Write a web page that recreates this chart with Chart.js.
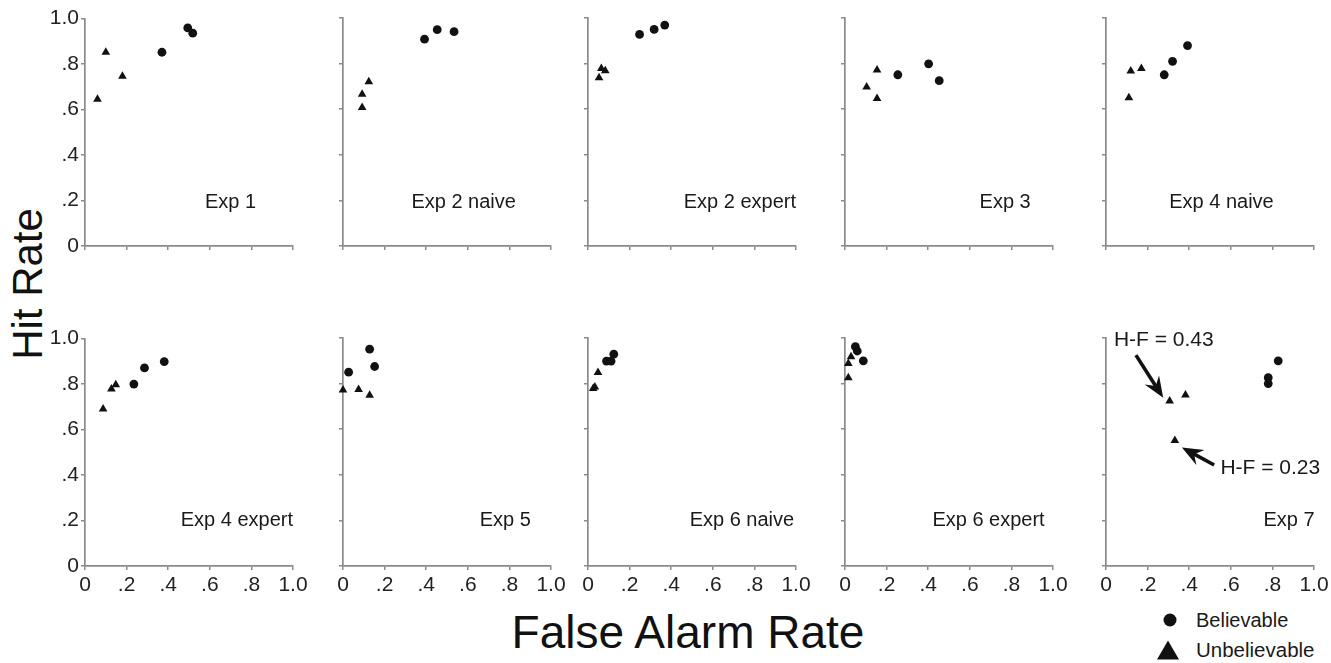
<!DOCTYPE html>
<html>
<head>
<meta charset="utf-8">
<script src="https://cdn.jsdelivr.net/npm/chart.js@4.4.1/dist/chart.umd.min.js"></script>
<style>
  html, body { margin:0; padding:0; background:#fff; }
  body { width:1331px; height:663px; position:relative; overflow:hidden; font-family:"Liberation Sans", Arial, sans-serif; color:#1a1a1a; }
  .panel { position:absolute; }
  .title { position:absolute; white-space:nowrap; color:#111; }
  #ytitle { font-size:42px; left:28px; top:284px; transform:translate(-50%,-50%) rotate(-90deg); }
  #xtitle { font-size:46px; left:688px; top:632px; transform:translate(-50%,-50%); }
  .leg { position:absolute; font-size:20px; color:#1a1a1a; white-space:nowrap; transform:translateY(-50%); }
  .dot { position:absolute; width:13px; height:13px; border-radius:50%; background:#111; transform:translate(-50%,-50%); }
  .tri { position:absolute; width:0; height:0; border-left:11px solid transparent; border-right:11px solid transparent; border-bottom:19px solid #111; transform:translate(-50%,-50%); }
</style>
</head>
<body>
<div id="ytitle" class="title">Hit Rate</div>
<div id="xtitle" class="title">False Alarm Rate</div>
<div class="dot" style="left:1170px; top:620px;"></div>
<div class="leg" style="left:1196px; top:620px;">Believable</div>
<div class="tri" style="left:1168px; top:650px;"></div>
<div class="leg" style="left:1196px; top:650px; font-size:20.5px;">Unbelievable</div>

<script>
// ---------------- DATA ----------------
const panelNames = ["Exp 1", "Exp 2 naive", "Exp 2 expert", "Exp 3", "Exp 4 naive",
                    "Exp 4 expert", "Exp 5", "Exp 6 naive", "Exp 6 expert", "Exp 7"];

const tickValues = [0, 0.2, 0.4, 0.6, 0.8, 1.0];
const tickLabels = ["0", ".2", ".4", ".6", ".8", "1.0"];

// Believable (circles): false alarm rate and hit rate, per panel
const believableFA = [
  [0.37, 0.494, 0.518],
  [0.392, 0.453, 0.534],
  [0.248, 0.318, 0.369],
  [0.254, 0.402, 0.453],
  [0.28, 0.32, 0.392],
  [0.235, 0.286, 0.381],
  [0.027, 0.128, 0.152],
  [0.089, 0.111, 0.124],
  [0.05, 0.059, 0.088],
  [0.828, 0.78, 0.78]
];
const believableHit = [
  [0.852, 0.959, 0.936],
  [0.907, 0.949, 0.94],
  [0.928, 0.95, 0.969],
  [0.751, 0.799, 0.725],
  [0.751, 0.81, 0.879],
  [0.8, 0.871, 0.899],
  [0.85, 0.951, 0.875],
  [0.899, 0.899, 0.929],
  [0.962, 0.943, 0.9],
  [0.9, 0.826, 0.8]
];

// Unbelievable (triangles): false alarm rate and hit rate, per panel
const unbelievableFA = [
  [0.06, 0.10, 0.18],
  [0.092, 0.092, 0.124],
  [0.053, 0.064, 0.083],
  [0.104, 0.154, 0.154],
  [0.11, 0.119, 0.17],
  [0.087, 0.127, 0.148],
  [0.0, 0.075, 0.128],
  [0.025, 0.033, 0.048],
  [0.016, 0.016, 0.029],
  [0.306, 0.382, 0.331]
];
const unbelievableHit = [
  [0.645, 0.852, 0.747],
  [0.666, 0.607, 0.72],
  [0.738, 0.779, 0.769],
  [0.697, 0.772, 0.647],
  [0.65, 0.768, 0.778],
  [0.69, 0.778, 0.797],
  [0.772, 0.774, 0.749],
  [0.779, 0.785, 0.849],
  [0.826, 0.888, 0.918],
  [0.724, 0.75, 0.55]
];

// Annotation texts (Exp 7)
const annotationTexts = ["H-F = 0.43", "H-F = 0.23"];

// ---------------- LAYOUT / STYLE ----------------
const COLS = [85, 343, 588, 845, 1106];
const ROWS = [18, 338];
const PW = 208, PH = 228;
const YW = 50, XH = 40, TP = 14, RP = 24;
const AXIS = '#8a8a8a';
const INK = '#111';
const FONT = '"Liberation Sans", Arial, sans-serif';

// label placement (in data units of each panel)
const labelPos = [
  [0.70, 0.19], [0.58, 0.19], [0.73, 0.19], [0.77, 0.19], [0.555, 0.19],
  [0.73, 0.20], [0.78, 0.20], [0.74, 0.20], [0.69, 0.20], [0.88, 0.20]
];
// annotation placement for Exp 7 (data units): text anchor, arrow tail, arrow head
const annoLayout = [
  { text:[0.038, 0.991], tail:[0.144, 0.925], head:[0.275, 0.738] },
  { text:[0.55, 0.43],   tail:[0.52, 0.443], head:[0.365, 0.52] }
];

function pts(xs, ys) { return xs.map((x, k) => ({ x: x, y: ys[k] })); }

function drawArrow(ctx, x0, y0, x1, y1) {
  const ang = Math.atan2(y1 - y0, x1 - x0);
  const L = 21, W = 8.5, notch = 14;
  const bx = x1 - Math.cos(ang) * notch, by = y1 - Math.sin(ang) * notch;
  ctx.save();
  ctx.strokeStyle = INK; ctx.fillStyle = INK; ctx.lineWidth = 3.6; ctx.lineCap = 'butt';
  ctx.beginPath(); ctx.moveTo(x0, y0); ctx.lineTo(bx, by); ctx.stroke();
  const hx = x1 - Math.cos(ang) * L, hy = y1 - Math.sin(ang) * L;
  const px = -Math.sin(ang), py = Math.cos(ang);
  ctx.beginPath();
  ctx.moveTo(x1, y1);
  ctx.lineTo(hx + px * W, hy + py * W);
  ctx.lineTo(bx, by);
  ctx.lineTo(hx - px * W, hy - py * W);
  ctx.closePath(); ctx.fill();
  ctx.restore();
}

const panelLabelPlugin = {
  id: 'panelLabel',
  afterDraw(chart, args, opts) {
    const i = opts.index;
    const ctx = chart.ctx, xs = chart.scales.x, ys = chart.scales.y;
    ctx.save();
    ctx.fillStyle = '#1a1a1a';
    ctx.font = '20px ' + FONT;
    ctx.textAlign = 'center'; ctx.textBaseline = 'middle';
    ctx.fillText(panelNames[i], xs.getPixelForValue(labelPos[i][0]), ys.getPixelForValue(labelPos[i][1]));
    if (i === 9) {
      ctx.font = '21px ' + FONT;
      ctx.textAlign = 'left';
      annoLayout.forEach((a, k) => {
        ctx.fillText(annotationTexts[k], xs.getPixelForValue(a.text[0]), ys.getPixelForValue(a.text[1]));
        drawArrow(ctx, xs.getPixelForValue(a.tail[0]), ys.getPixelForValue(a.tail[1]),
                       xs.getPixelForValue(a.head[0]), ys.getPixelForValue(a.head[1]));
      });
    }
    ctx.restore();
  }
};

function axisOpts(showLabels, horizontal) {
  return {
    type: 'linear', min: 0, max: 1,
    afterBuildTicks: s => { s.ticks = tickValues.map(v => ({ value: v })); },
    ticks: {
      display: showLabels,
      autoSkip: false, maxRotation: 0,
      padding: horizontal ? 3 : 2,
      color: '#222',
      font: { family: FONT, size: 21 },
      callback: (v, idx) => tickLabels[idx]
    },
    grid: { display: true, drawOnChartArea: false, drawTicks: true, tickLength: 4, color: AXIS, lineWidth: 1.5 },
    border: { display: true, color: AXIS, width: 1.7 },
    afterFit: s => { if (horizontal) s.height = XH; else s.width = YW; }
  };
}

for (let i = 0; i < 10; i++) {
  const row = i < 5 ? 0 : 1, col = i % 5;
  const w = YW + PW + RP, h = TP + PH + XH;
  const div = document.createElement('div');
  div.className = 'panel';
  div.style.left = (COLS[col] - YW) + 'px';
  div.style.top = (ROWS[row] - TP) + 'px';
  div.style.width = w + 'px'; div.style.height = h + 'px';
  const cv = document.createElement('canvas');
  cv.width = w; cv.height = h;
  cv.style.width = w + 'px'; cv.style.height = h + 'px';
  div.appendChild(cv);
  document.body.appendChild(div);

  new Chart(cv, {
    type: 'scatter',
    data: {
      datasets: [
        { label: 'Believable', data: pts(believableFA[i], believableHit[i]),
          pointStyle: 'circle', pointRadius: 4.4, backgroundColor: INK, borderColor: INK, borderWidth: 0, clip: false },
        { label: 'Unbelievable', data: pts(unbelievableFA[i], unbelievableHit[i]),
          pointStyle: 'triangle', pointRadius: 5, backgroundColor: INK, borderColor: INK, borderWidth: 0, clip: false }
      ]
    },
    options: {
      responsive: false, animation: false, devicePixelRatio: 1,
      layout: { padding: { top: TP, right: RP, left: 0, bottom: 0 } },
      plugins: { legend: { display: false }, tooltip: { enabled: false }, panelLabel: { index: i } },
      scales: {
        x: axisOpts(row === 1, true),
        y: axisOpts(col === 0, false)
      }
    },
    plugins: [panelLabelPlugin]
  });
}
</script>
</body>
</html>
